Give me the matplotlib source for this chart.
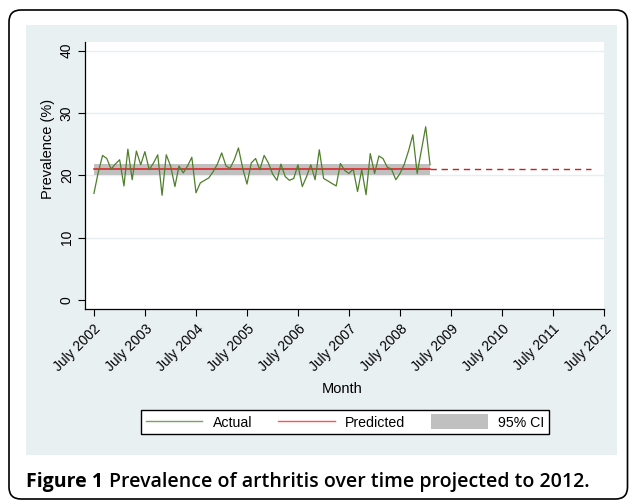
import matplotlib
matplotlib.use('Agg')
import matplotlib.pyplot as plt
import matplotlib.patches as mpatches
import matplotlib.transforms as mtransforms
import pandas as pd

# monthly prevalence of arthritis (%), July 2002 - Jan 2009
actual = [17.1, 20.5, 23.2, 22.7, 21.0, 21.8, 22.5, 18.3, 24.2, 19.3,
          23.9, 21.7, 23.8, 20.9, 22.0, 23.3, 16.8, 23.3, 21.5, 18.2,
          21.5, 20.4, 21.5, 22.9, 17.2, 18.8, 19.2, 19.6, 20.6, 21.8,
          23.6, 21.5, 21.1, 22.5, 24.4, 21.1, 18.6, 22.0, 22.7, 20.9,
          23.2, 22.0, 20.2, 19.2, 21.8, 19.8, 19.2, 19.5, 21.7, 18.2,
          19.8, 21.7, 19.3, 24.1, 19.5, 19.1, 18.7, 18.3, 21.9, 20.8,
          20.3, 21.0, 17.4, 20.9, 16.9, 23.5, 20.3, 23.1, 22.7, 21.3,
          21.0, 19.3, 20.3, 21.8, 24.0, 26.5, 20.3, 24.0, 27.8, 21.7]
first_month = '2002-07-01'
forecast_end = '2012-04-01'
predicted = 21.0
ci_low = 20.0
ci_high = 21.9
tick_years = list(range(2002, 2013))
tick_labels = ['July %d' % y for y in tick_years]
y_ticks = [0, 10, 20, 30, 40]

months = pd.date_range(first_month, periods=len(actual), freq='MS')
future = pd.date_range(months[-1], forecast_end, freq='MS')

fig = plt.figure(figsize=(6.29, 5.0), dpi=100)
plt.rcParams['font.family'] = ['Liberation Sans', 'DejaVu Sans']

# rounded outer frame and light panel behind the graph
frame = mpatches.FancyBboxPatch((9, 1), 618.5, 489, boxstyle='round,pad=0,rounding_size=12',
                                transform=mtransforms.IdentityTransform(),
                                fill=False, edgecolor='black', linewidth=1.2, zorder=-2)
fig.patches.append(frame)
panel = mpatches.Rectangle((26 / 629, 1 - 455 / 500), 591 / 629, 430 / 500,
                           transform=fig.transFigure, facecolor='#e9f0f2',
                           edgecolor='none', zorder=-1)
fig.patches.append(panel)

ax = fig.add_axes([85 / 629, 1 - 309 / 500, 519 / 629, 267 / 500])
ax.set_facecolor('white')

ax.fill_between(months, ci_low, ci_high, color='#c0c0c0', linewidth=0, zorder=2)
ax.plot(months, [predicted] * len(months), color='#e31a1c', linewidth=1.1, zorder=3)
ax.plot(future, [predicted] * len(future), color='#cc2020', linewidth=1.0,
        dashes=(4.5, 3.5), zorder=3)
ax.plot(months, actual, color='#4f7f2b', linewidth=0.9, zorder=4)

for g in y_ticks[1:]:
    ax.axhline(g, color='#e6eef0', linewidth=1.0, zorder=1)

ax.set_ylim(-1.45, 41.4)
ax.set_xlim(pd.Timestamp('2002-04-28'), pd.Timestamp('2012-07-01'))
ax.set_yticks(y_ticks)
ax.set_yticklabels([str(v) for v in y_ticks], rotation=90, va='center')
ax.set_xticks([pd.Timestamp('%d-07-01' % y) for y in tick_years])
ax.set_xticklabels(tick_labels, rotation=45, ha='right', rotation_mode='anchor')
ax.tick_params(axis='both', direction='out', length=5, width=0.8, labelsize=10,
               colors='black', pad=3)
ax.tick_params(axis='x', pad=4)

for s in ['top', 'right']:
    ax.spines[s].set_visible(False)
ax.spines['left'].set_linewidth(0.9)
ax.spines['bottom'].set_linewidth(0.9)

fig.text(48 / 629, 1 - 149 / 500, 'Prevalence (%)', rotation=90, ha='center',
         va='center', fontsize=10.5)
fig.text(342 / 629, 1 - 389 / 500, 'Month', ha='center', va='center', fontsize=10.5)

h1 = plt.Line2D([], [], color='#7f9f62', linewidth=1.0)
h2 = plt.Line2D([], [], color='#ff5555', linewidth=1.0)
h3 = mpatches.Patch(facecolor='#c0c0c0', edgecolor='none')
leg = fig.legend([h1, h2, h3], ['Actual', 'Predicted', '95% CI'], ncol=3,
                 loc='center', bbox_to_anchor=(345 / 629, 1 - 422 / 500),
                 fontsize=10.2, frameon=True, fancybox=False, edgecolor='black',
                 framealpha=1, handlelength=4.0, handleheight=1.2,
                 handletextpad=0.75, columnspacing=1.8, borderpad=0.3)
leg.get_frame().set_linewidth(1.0)

# caption
t1 = fig.text(26 / 629, 1 - 487 / 500, 'Figure 1', fontsize=14, fontweight='bold',
              family=['Open Sans', 'DejaVu Sans'], va='baseline')
fig.canvas.draw()
bb = t1.get_window_extent()
fig.text((bb.x1 + 6) / 629, 1 - 487 / 500,
         'Prevalence of arthritis over time projected to 2012.', fontsize=14,
         fontweight='semibold', family=['Open Sans', 'DejaVu Sans'], va='baseline')

plt.savefig('out.png', dpi=100)
